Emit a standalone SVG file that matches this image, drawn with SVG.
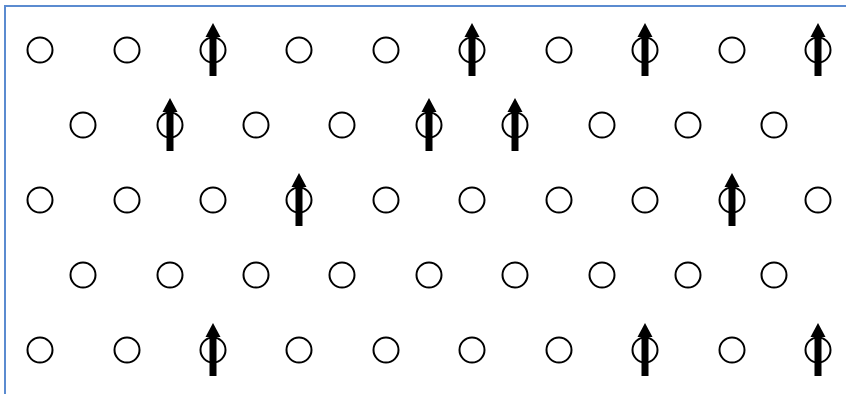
<svg xmlns="http://www.w3.org/2000/svg" xmlns:xlink="http://www.w3.org/1999/xlink" width="846" height="394" viewBox="0 0 846 394">
<style>
.s{fill:#fff;stroke:#000;stroke-width:2}
.a{fill:#000}
.f{fill:none;stroke:#5b8bd0;stroke-width:2}
</style>
<defs>
<circle id="c" class="s" r="12.5"/>
<g id="arr"><rect class="a" x="-3.5" y="-15" width="7" height="41"/><polygon class="a" points="0,-27 7.5,-13 -7.5,-13"/></g>
</defs>
<rect width="846" height="394" fill="#fff"/>
<path class="f" d="M5,394 V6 H846"/>
<g id="row1" transform="translate(0,50)">
<use id="n1_1" href="#c" x="40"/><use id="n1_2" href="#c" x="127"/><use id="n1_3" href="#c" x="213"/><use id="n1_4" href="#c" x="299"/><use id="n1_5" href="#c" x="386"/><use id="n1_6" href="#c" x="472"/><use id="n1_7" href="#c" x="559"/><use id="n1_8" href="#c" x="645"/><use id="n1_9" href="#c" x="732"/><use id="n1_10" href="#c" x="818"/>
</g>
<g id="row2" transform="translate(0,125)">
<use id="n2_1" href="#c" x="83"/><use id="n2_2" href="#c" x="170"/><use id="n2_3" href="#c" x="256"/><use id="n2_4" href="#c" x="342"/><use id="n2_5" href="#c" x="429"/><use id="n2_6" href="#c" x="515"/><use id="n2_7" href="#c" x="602"/><use id="n2_8" href="#c" x="688"/><use id="n2_9" href="#c" x="774"/>
</g>
<g id="row3" transform="translate(0,200)">
<use id="n3_1" href="#c" x="40"/><use id="n3_2" href="#c" x="127"/><use id="n3_3" href="#c" x="213"/><use id="n3_4" href="#c" x="299"/><use id="n3_5" href="#c" x="386"/><use id="n3_6" href="#c" x="472"/><use id="n3_7" href="#c" x="559"/><use id="n3_8" href="#c" x="645"/><use id="n3_9" href="#c" x="732"/><use id="n3_10" href="#c" x="818"/>
</g>
<g id="row4" transform="translate(0,275)">
<use id="n4_1" href="#c" x="83"/><use id="n4_2" href="#c" x="170"/><use id="n4_3" href="#c" x="256"/><use id="n4_4" href="#c" x="342"/><use id="n4_5" href="#c" x="429"/><use id="n4_6" href="#c" x="515"/><use id="n4_7" href="#c" x="602"/><use id="n4_8" href="#c" x="688"/><use id="n4_9" href="#c" x="774"/>
</g>
<g id="row5" transform="translate(0,350)">
<use id="n5_1" href="#c" x="40"/><use id="n5_2" href="#c" x="127"/><use id="n5_3" href="#c" x="213"/><use id="n5_4" href="#c" x="299"/><use id="n5_5" href="#c" x="386"/><use id="n5_6" href="#c" x="472"/><use id="n5_7" href="#c" x="559"/><use id="n5_8" href="#c" x="645"/><use id="n5_9" href="#c" x="732"/><use id="n5_10" href="#c" x="818"/>
</g>
<g id="spins">
<use href="#arr" x="213" y="50"/><use href="#arr" x="472" y="50"/><use href="#arr" x="645" y="50"/><use href="#arr" x="818" y="50"/>
<use href="#arr" x="170" y="125"/><use href="#arr" x="429" y="125"/><use href="#arr" x="515" y="125"/>
<use href="#arr" x="299" y="200"/><use href="#arr" x="732" y="200"/>
<use href="#arr" x="213" y="350"/><use href="#arr" x="645" y="350"/><use href="#arr" x="818" y="350"/>
</g>
</svg>
